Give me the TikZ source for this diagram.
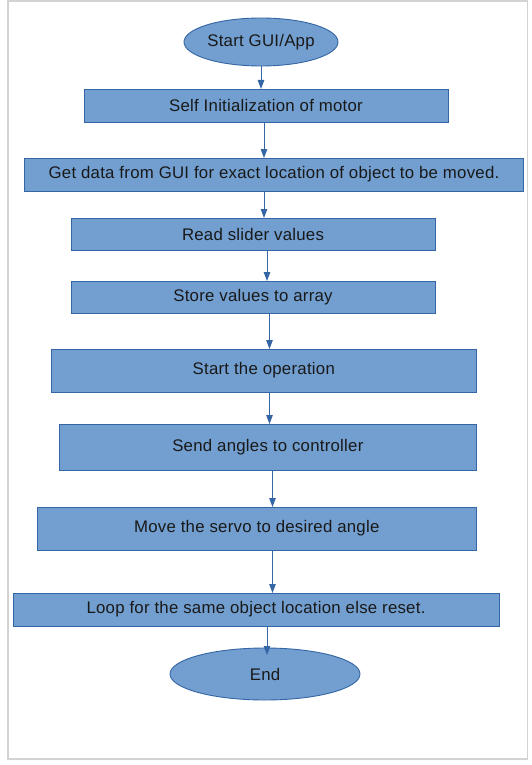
\documentclass[tikz,border=0pt]{standalone}
\usepackage{fontspec}
\setmainfont{Liberation Sans}[LetterSpace=1.5]
\usetikzlibrary{arrows.meta,shapes.geometric}
\definecolor{boxfill}{HTML}{729FCF}
\definecolor{boxline}{HTML}{3465A4}
\definecolor{frameline}{HTML}{D3D3D3}
\tikzset{
  stepbox/.style={draw=boxline, fill=boxfill, line width=0.9pt, rectangle, inner sep=0pt, outer sep=0pt, font=\fontsize{16.8}{19}\selectfont, text=black!90},
  termnode/.style={draw=boxline, fill=boxfill, line width=0.9pt, ellipse, inner sep=0pt, outer sep=0pt, font=\fontsize{16.8}{19}\selectfont, text=black!90},
  arr/.style={draw=boxline, line width=1pt, -{Triangle[length=9pt,width=6.5pt]}}
}
\begin{document}
\begin{tikzpicture}[x=1pt,y=-1pt]
\useasboundingbox (0,0) rectangle (532,765);
\draw[frameline, line width=1.6pt] (8,1) rectangle (527.5,759);
\node[termnode, minimum width=154pt, minimum height=48pt] (start) at (261,42) {Start GUI/App};
\node[stepbox, minimum width=364pt, minimum height=33pt] (self) at (266,105.5) {Self Initialization of motor};
\node[stepbox, minimum width=499pt, minimum height=33pt] (get) at (274,174.5) {Get data from GUI for exact location of object to be moved.};
\node[stepbox, minimum width=364pt, minimum height=32pt] (read) at (253,234) {Read slider values};
\node[stepbox, minimum width=364pt, minimum height=32pt] (store) at (253,297) {Store values to array};
\node[stepbox, minimum width=424.5pt, minimum height=43pt] (op) at (263.75,370.5) {Start the operation};
\node[stepbox, minimum width=416.3pt, minimum height=46pt] (send) at (267.85,447) {Send angles to controller};
\node[stepbox, minimum width=438.5pt, minimum height=43pt] (move) at (256.75,528.5) {Move the servo to desired angle};
\node[stepbox, minimum width=486pt, minimum height=33pt] (loop) at (256,609.5) {Loop for the same object location else reset.};
\node[termnode, minimum width=190pt, minimum height=52pt] (end) at (265,674) {End};
\draw[arr] (start.south -| 261,0) -- (self.north -| 261,0);
\draw[arr] (self.south -| 264,0) -- (get.north -| 264,0);
\draw[arr] (get.south -| 264,0) -- (read.north -| 264,0);
\draw[arr] (read.south -| 267,0) -- (store.north -| 267,0);
\draw[arr] (store.south -| 269.5,0) -- (op.north -| 269.5,0);
\draw[arr] (op.south -| 269.5,0) -- (send.north -| 269.5,0);
\draw[arr] (send.south -| 272.5,0) -- (move.north -| 272.5,0);
\draw[arr] (move.south -| 272.5,0) -- (loop.north -| 272.5,0);
\draw[arr, shorten >=-7pt] (loop.south -| 267,0) -- (end.north -| 267,0);
\end{tikzpicture}
\end{document}
